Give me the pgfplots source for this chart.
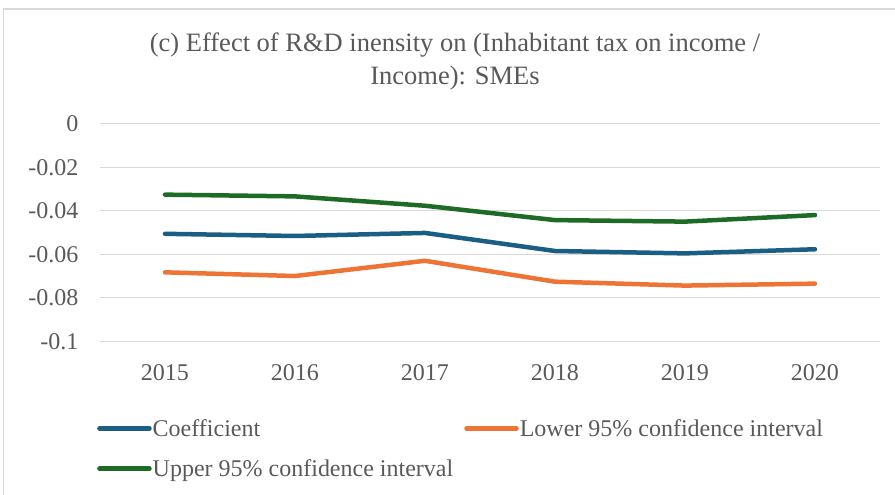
\documentclass[border=0pt]{standalone}
\usepackage{pgfplots}
\pgfplotsset{compat=1.18}
\usepackage{fontspec}
\setmainfont{Liberation Serif}
\definecolor{cblue}{HTML}{1A5E83}
\definecolor{corange}{HTML}{ED7434}
\definecolor{cgreen}{HTML}{1E6B25}
\definecolor{cgrid}{HTML}{D9D9D9}
\definecolor{ctext}{HTML}{595959}
\begin{document}
\begin{tikzpicture}[x=1pt,y=1pt]
\path[use as bounding box] (0,0) rectangle (895,-495);
\draw[cgrid, line width=1.2pt] (3.5,-495) -- (3.5,-9) -- (895,-9);
\node[text=ctext, font=\fontsize{26.5}{33}\selectfont, align=center] at (455,-61) {(c) Effect of R\&D inensity on (Inhabitant tax on income /\\Income): SMEs};
\begin{axis}[
  at={(100pt,-341.3pt)}, anchor=south west,
  scale only axis, width=780pt, height=217.6pt,
  xmin=-0.5, xmax=5.5, ymin=-0.1, ymax=0,
  xtick={0,1,2,3,4,5}, xticklabels={2015,2016,2017,2018,2019,2020},
  ytick={-0.1,-0.08,-0.06,-0.04,-0.02,0},
  yticklabels={-0.1,-0.08,-0.06,-0.04,-0.02,0},
  axis line style={draw=none},
  axis x line*=bottom,
  ymajorgrids, grid style={cgrid, line width=1.2pt},
  major tick length=0pt,
  tick label style={text=ctext, font=\fontsize{24}{28}\selectfont},
  yticklabel style={xshift=-18pt},
  xticklabel style={yshift=-20pt},
  clip=false,
  legend columns=2,
  legend style={at={(-0.0038,-0.352)}, anchor=north west, draw=none, fill=none,
    font=\fontsize{24}{28}\selectfont, text=ctext, inner sep=0pt,
    row sep=20pt, /tikz/every even column/.append style={column sep=10pt},
    nodes={inner sep=1pt}},
  legend cell align=left,
  legend image code/.code={\draw[#1, line width=4.5pt, line cap=round] (2pt,0pt) -- (52pt,0pt);},
]
\draw[cgrid, line width=1.2pt] (axis cs:-0.5,-0.1) -- (axis cs:5.5,-0.1);
\addplot[cblue, line width=4.5pt, line cap=round, line join=round] coordinates {(0,-0.0506) (1,-0.0516) (2,-0.0502) (3,-0.0585) (4,-0.0596) (5,-0.0577)};
\addlegendentry{Coefficient}
\addplot[corange, line width=4.5pt, line cap=round, line join=round] coordinates {(0,-0.0683) (1,-0.0700) (2,-0.0630) (3,-0.0726) (4,-0.0744) (5,-0.0735)};
\addlegendentry{Lower 95\% confidence interval}
\addplot[cgreen, line width=4.5pt, line cap=round, line join=round] coordinates {(0,-0.0326) (1,-0.0334) (2,-0.0377) (3,-0.0443) (4,-0.0450) (5,-0.0420)};
\addlegendentry{Upper 95\% confidence interval}
\end{axis}
\end{tikzpicture}
\end{document}
